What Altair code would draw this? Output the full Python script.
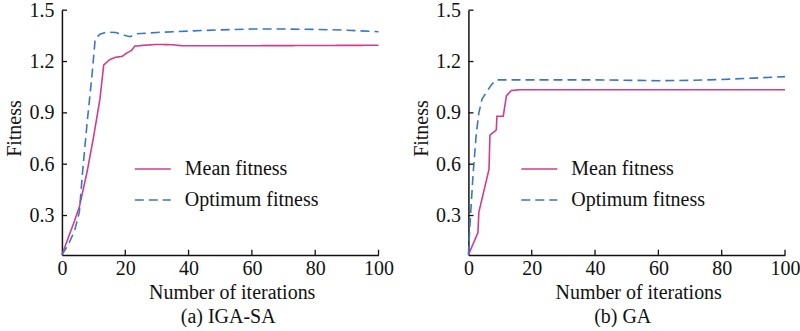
import altair as alt
import pandas as pd

SERIES = ["Mean fitness", "Optimum fitness"]

# (a) IGA-SA
a_mean_it = [0, 2, 4, 5.5, 8, 10, 12, 13.2, 15, 17, 19, 20.5, 22, 23, 26, 30, 35, 38, 50, 70, 100]
a_mean_v = [0.07, 0.17, 0.27, 0.35, 0.56, 0.76, 0.98, 1.18, 1.21, 1.225, 1.23, 1.25, 1.265, 1.29, 1.295, 1.30, 1.298, 1.292, 1.292, 1.293, 1.295]
a_opt_it = [0, 2, 4, 5.5, 6.5, 8, 9.5, 10.5, 12, 14, 17, 20, 21.5, 23.5, 30, 40, 50, 60, 70, 80, 90, 100]
a_opt_v = [0.07, 0.13, 0.21, 0.32, 0.55, 0.85, 1.12, 1.33, 1.36, 1.372, 1.37, 1.352, 1.345, 1.362, 1.37, 1.378, 1.385, 1.39, 1.39, 1.388, 1.383, 1.374]

# (b) GA
b_mean_it = [0, 3, 3.3, 6.5, 6.8, 8.8, 9.0, 11, 12, 13.5, 16, 20, 50, 100]
b_mean_v = [0.07, 0.20, 0.32, 0.57, 0.77, 0.80, 0.88, 0.88, 1.00, 1.03, 1.035, 1.035, 1.035, 1.035]
b_opt_it = [0, 0.5, 1.5, 2.5, 3.3, 4.3, 6, 7.5, 9, 20, 40, 60, 70, 80, 90, 100]
b_opt_v = [0.07, 0.25, 0.55, 0.78, 0.90, 0.98, 1.03, 1.07, 1.093, 1.093, 1.093, 1.088, 1.09, 1.095, 1.103, 1.112]

x_ticks = [0, 20, 40, 60, 80, 100]
y_ticks = [0.3, 0.6, 0.9, 1.2, 1.5]

FONT = "Liberation Serif"
MAGENTA = "#d23c8e"
BLUE = "#3a76c6"
Y_MIN = 0.07


def frame(it_m, v_m, it_o, v_o):
    return pd.DataFrame({
        "it": it_m + it_o,
        "v": v_m + v_o,
        "series": [SERIES[0]] * len(it_m) + [SERIES[1]] * len(it_o),
    })


def panel(df, title, legend_x, title_dx):
    xs = alt.Scale(domain=[0, 100], nice=False, zero=False)
    ys = alt.Scale(domain=[Y_MIN, 1.5], nice=False, zero=False)
    common = dict(labelFont=FONT, labelFontSize=20, labelColor="#111", titleFont=FONT,
                  titleFontSize=20, titleFontWeight="normal", titleColor="#111",
                  domainColor="#111", domainWidth=1.5, ticks=False, tickSize=0, grid=False,
                  labelFlush=False)
    x_axis = alt.Axis(values=x_ticks, title="Number of iterations",
                      labelPadding=4, titleX=170, titleY=44, titleBaseline="alphabetic",
                      **common)
    y_axis = alt.Axis(values=y_ticks, format=".1f", title="Fitness",
                      labelPadding=8, titleX=-41, titleY=118, titleBaseline="alphabetic",
                      titleAlign="center", titleAngle=-90, **common)
    leg = alt.Legend(title=None, orient="none", legendX=legend_x, legendY=140,
                     symbolType="stroke", symbolSize=1300, symbolStrokeWidth=1.6,
                     labelFont=FONT, labelFontSize=20, labelColor="#111",
                     labelOffset=13, rowPadding=2)
    lines = alt.Chart(df).mark_line(strokeWidth=1.6).encode(
        x=alt.X("it:Q", scale=xs, axis=x_axis),
        y=alt.Y("v:Q", scale=ys, axis=y_axis),
        color=alt.Color("series:N", scale=alt.Scale(domain=SERIES, range=[MAGENTA, BLUE]), legend=leg),
        strokeDash=alt.StrokeDash("series:N", scale=alt.Scale(domain=SERIES, range=[[1, 0], [9, 5]]),
                                  legend=leg),
    )
    ytick_df = pd.DataFrame({"v": y_ticks})
    yt = alt.Chart(ytick_df).mark_rule(color="#111", strokeWidth=1.3).encode(
        y=alt.Y("v:Q", scale=ys, axis=y_axis),
        x=alt.X(datum=0, scale=xs, axis=x_axis),
        x2=alt.datum(1.6),
    )
    xtick_df = pd.DataFrame({"it": x_ticks[1:]})
    xt = alt.Chart(xtick_df).mark_rule(color="#111", strokeWidth=1.3).encode(
        x=alt.X("it:Q", scale=xs, axis=x_axis),
        y=alt.Y(datum=Y_MIN, scale=ys, axis=y_axis),
        y2=alt.datum(Y_MIN + 0.03),
    )
    return alt.layer(lines, yt, xt).properties(
        width=317, height=245,
        title=alt.TitleParams(title, orient="bottom", font=FONT, fontSize=20,
                              fontWeight="normal", color="#111", offset=4, dx=title_dx),
    )


left = panel(frame(a_mean_it, a_mean_v, a_opt_it, a_opt_v), "(a) IGA-SA", 72, 8)
right = panel(frame(b_mean_it, b_mean_v, b_opt_it, b_opt_v), "(b) GA", 52, -4)

chart = alt.hconcat(left, right, spacing=90).properties(
    bounds="flush", padding={"left": 5, "top": 0, "right": 0, "bottom": 0},
    background="white"
).resolve_scale(color="independent", strokeDash="independent").configure_view(
    strokeWidth=0
)

chart.save("out.html", embed_options={"renderer": "svg", "actions": False})
